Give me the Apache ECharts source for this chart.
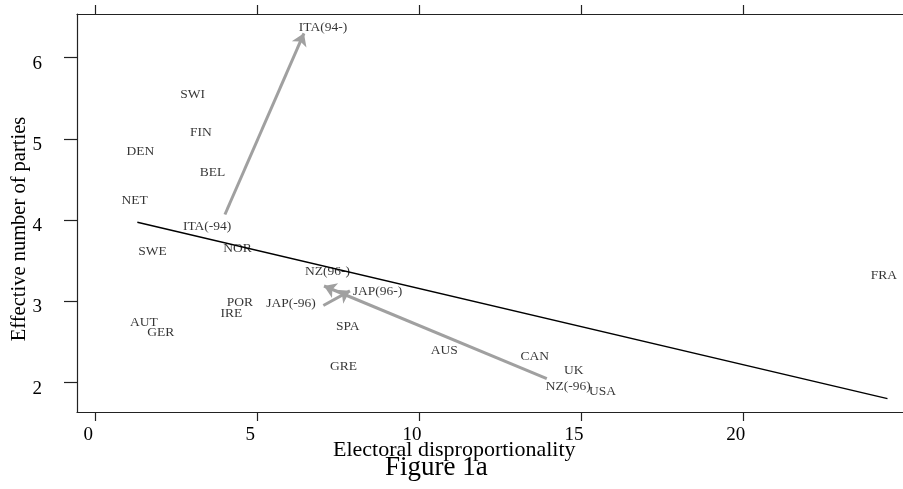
<!DOCTYPE html>
<html>
<head>
<meta charset="utf-8">
<script src="https://cdn.jsdelivr.net/npm/echarts@6/dist/echarts.min.js"></script>
<style>
  html, body { margin: 0; padding: 0; background: #fff; }
  #myChart { width: 903px; height: 489px; }
</style>
</head>
<body>
<div id="myChart"></div>
<script>
// countries (label drawn at the point)
var countries = ['ITA(94-)', 'SWI', 'FIN', 'DEN', 'BEL', 'NET', 'ITA(-94)', 'SWE', 'NOR',
  'NZ(96-)', 'JAP(96-)', 'POR', 'JAP(-96)', 'IRE', 'SPA', 'GRE', 'AUT', 'GER',
  'AUS', 'CAN', 'UK', 'NZ(-96)', 'USA', 'FRA']
var disprop = [7.02, 2.99, 3.25, 1.38, 3.61, 1.20, 3.44, 1.75, 4.38,
  7.16, 8.70, 4.45, 6.03, 4.19, 7.78, 7.65, 1.49, 2.01,
  10.76, 13.56, 14.76, 14.59, 15.65, 24.34]
var parties = [6.37, 5.55, 5.08, 4.85, 4.59, 4.24, 3.92, 3.62, 3.65,
  3.37, 3.12, 2.99, 2.97, 2.85, 2.69, 2.20, 2.74, 2.62,
  2.40, 2.32, 2.15, 1.95, 1.89, 3.32]

// arrows for the countries that changed electoral system
var arrowFrom = [[3.99, 4.07], [13.93, 2.05], [7.03, 2.95]]
var arrowTo = [[6.43, 6.30], [7.05, 3.19], [7.85, 3.13]]

// fitted line
var fitX = [1.285, 24.45]
var fitY = [3.975, 1.803]

var xTicks = [0, 5, 10, 15, 20]
var yTicks = [2, 3, 4, 5, 6]

var serif = 'Liberation Serif'

var myChart = echarts.init(document.getElementById('myChart'))

var pointData = countries.map(function (c, i) {
  return { name: c, value: [disprop[i], parties[i]] }
})
var arrowData = arrowFrom.map(function (p, i) {
  return { coords: [p, arrowTo[i]] }
})
var fitData = fitX.map(function (x, i) {
  return [x, fitY[i]]
})

var option = {
  animation: false,
  backgroundColor: '#fff',
  grid: {
    left: 77,
    top: 14,
    right: 0,
    bottom: 77
  },
  xAxis: [
    {
      type: 'value',
      position: 'bottom',
      min: -0.578,
      max: 24.93,
      axisLine: { onZero: false, lineStyle: { color: '#222', width: 1.2 } },
      axisTick: {
        customValues: xTicks,
        length: 9,
        lineStyle: { color: '#222', width: 1.2 }
      },
      axisLabel: {
        customValues: xTicks,
        margin: 14,
        padding: [0, 15, 0, 0],
        fontFamily: serif,
        fontSize: 19,
        color: '#000'
      },
      splitLine: { show: false }
    },
    {
      type: 'value',
      position: 'top',
      min: -0.578,
      max: 24.93,
      axisLine: { onZero: false, lineStyle: { color: '#222', width: 1.2 } },
      axisTick: {
        customValues: xTicks,
        length: 9,
        lineStyle: { color: '#222', width: 1.2 }
      },
      axisLabel: { show: false },
      splitLine: { show: false }
    }
  ],
  yAxis: {
    type: 'value',
    min: 1.639,
    max: 6.538,
    axisLine: { show: true, onZero: false, lineStyle: { color: '#222', width: 1.2 } },
    axisTick: {
      show: true,
      customValues: yTicks,
      length: 13,
      lineStyle: { color: '#222', width: 1.2 }
    },
    axisLabel: {
      customValues: yTicks,
      margin: 35,
      verticalAlign: 'top',
      lineHeight: 12,
      fontFamily: serif,
      fontSize: 19,
      color: '#000'
    },
    splitLine: { show: false }
  },
  graphic: [
    {
      type: 'text',
      left: 333,
      top: 439,
      style: {
        text: 'Electoral disproportionality',
        font: '22px "Liberation Serif"',
        fill: '#000'
      }
    },
    {
      type: 'text',
      left: 385,
      top: 454,
      style: {
        text: 'Figure 1a',
        font: '27px "Liberation Serif"',
        fill: '#000'
      }
    },
    {
      type: 'text',
      x: 20,
      y: 229,
      rotation: Math.PI / 2,
      style: {
        text: 'Effective number of parties',
        font: '20.5px "Liberation Serif"',
        fill: '#000',
        align: 'center',
        verticalAlign: 'middle'
      }
    }
  ],
  series: [
    {
      name: 'fit',
      type: 'line',
      data: fitData,
      symbol: 'none',
      lineStyle: { color: '#000', width: 1.4 },
      z: 3
    },
    {
      name: 'change',
      type: 'lines',
      coordinateSystem: 'cartesian2d',
      data: arrowData,
      symbol: ['none', 'arrow'],
      symbolSize: 12,
      lineStyle: { color: '#a0a0a0', width: 3, opacity: 1 },
      z: 2
    },
    {
      name: 'countries',
      type: 'scatter',
      data: pointData,
      symbolSize: 1,
      itemStyle: { color: 'rgba(0,0,0,0)' },
      label: {
        show: true,
        position: 'inside',
        formatter: '{b}',
        fontFamily: serif,
        fontSize: 13.5,
        color: '#000',
        textBorderWidth: 0
      },
      z: 4
    }
  ]
}

myChart.setOption(option)
</script>
</body>
</html>
